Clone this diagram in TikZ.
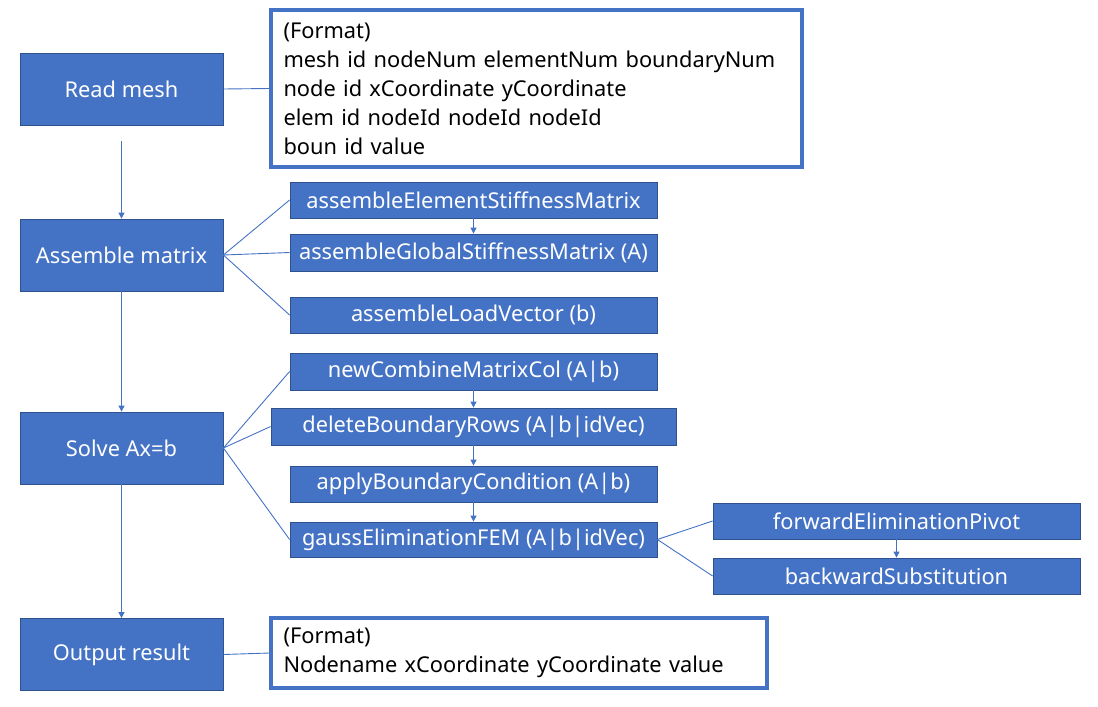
\documentclass[tikz,border=0pt]{standalone}
\usepackage{fontspec}
\setmainfont{Noto Sans}
\usetikzlibrary{arrows.meta}
\definecolor{mblue}{HTML}{4472C4}
\definecolor{dblue}{HTML}{2F528F}
\tikzset{
  bbox/.style={draw=dblue, line width=0.8pt, fill=mblue, text=white, inner sep=0pt,
    font=\fontsize{21.8}{26}\selectfont},
  fbox/.style={draw=mblue, line width=3.2pt, fill=white, text=black, inner xsep=11pt, inner ysep=0pt,
    align=left, font=\fontsize{21.8}{29}\selectfont},
  conn/.style={draw=mblue, line width=0.9pt},
  arr/.style={conn, -{Triangle[length=6pt,width=6pt]}}
}
\begin{document}
\begin{tikzpicture}[x=1pt,y=-1pt]
\useasboundingbox (0,0) rectangle (1098,707);
% main column
\node[bbox, minimum width=203pt, minimum height=72pt] (read) at (121.5,89) {Read mesh};
\node[bbox, minimum width=203pt, minimum height=72pt] (asm) at (121.5,255) {Assemble matrix};
\node[bbox, minimum width=203pt, minimum height=72pt] (solve) at (121.5,448) {Solve Ax=b};
\node[bbox, minimum width=203pt, minimum height=72pt] (out) at (121.5,654.5) {Output result};
% format boxes
\node[fbox, minimum width=531pt, minimum height=157pt, text width=506pt] (fmt1) at (536.5,88.5)
  {(Format)\\mesh id nodeNum elementNum boundaryNum\\node id xCoordinate yCoordinate\\elem id nodeId nodeId nodeId\\boun id value};
\node[fbox, minimum width=496pt, minimum height=70pt, text width=471pt] (fmt2) at (519,653)
  {(Format)\\Nodename xCoordinate yCoordinate value};
% assemble sub boxes
\node[bbox, minimum width=367pt, minimum height=36pt] (elem) at (473.5,200) {assembleElementStiffnessMatrix};
\node[bbox, minimum width=367pt, minimum height=37pt] (glob) at (473.5,252.5) {assembleGlobalStiffnessMatrix (A)};
\node[bbox, minimum width=367pt, minimum height=36pt] (load) at (473.5,315) {assembleLoadVector (b)};
% solve sub boxes
\node[bbox, minimum width=367pt, minimum height=37pt] (comb) at (473.5,371.5) {newCombineMatrixCol (A|b)};
\node[bbox, minimum width=405pt, minimum height=37pt] (del) at (473.5,426.5) {deleteBoundaryRows (A|b|idVec)};
\node[bbox, minimum width=367pt, minimum height=36pt] (apply) at (473.5,484) {applyBoundaryCondition (A|b)};
\node[bbox, minimum width=367pt, minimum height=35pt] (gauss) at (473.5,539.5) {gaussEliminationFEM (A|b|idVec)};
% gauss sub boxes
\node[bbox, minimum width=367pt, minimum height=36pt] (fwd) at (896.5,521) {forwardEliminationPivot};
\node[bbox, minimum width=367pt, minimum height=36pt] (bwd) at (896.5,576) {backwardSubstitution};
% connectors
\coordinate (c1) at (121.5,141);
\draw[conn] (read.east) -- (fmt1.west);
\draw[arr] (c1) -- (asm.north);
\draw[arr] (asm.south) -- (solve.north);
\draw[arr] (solve.south) -- (out.north);
\draw[conn] (out.east) -- (fmt2.west);
\draw[conn] (asm.east) -- (elem.west);
\draw[conn] (asm.east) -- (glob.west);
\draw[conn] (asm.east) -- (load.west);
\draw[arr] (elem.south) -- (glob.north);
\draw[conn] (solve.east) -- (comb.west);
\draw[conn] (solve.east) -- (del.west);
\draw[conn] (solve.east) -- (gauss.west);
\draw[arr] (comb.south) -- (del.north);
\draw[arr] (del.south) -- (apply.north);
\draw[arr] (apply.south) -- (gauss.north);
\draw[conn] (gauss.east) -- (fwd.west);
\draw[conn] (gauss.east) -- (bwd.west);
\draw[arr] (fwd.south) -- (bwd.north);
\end{tikzpicture}
\end{document}
